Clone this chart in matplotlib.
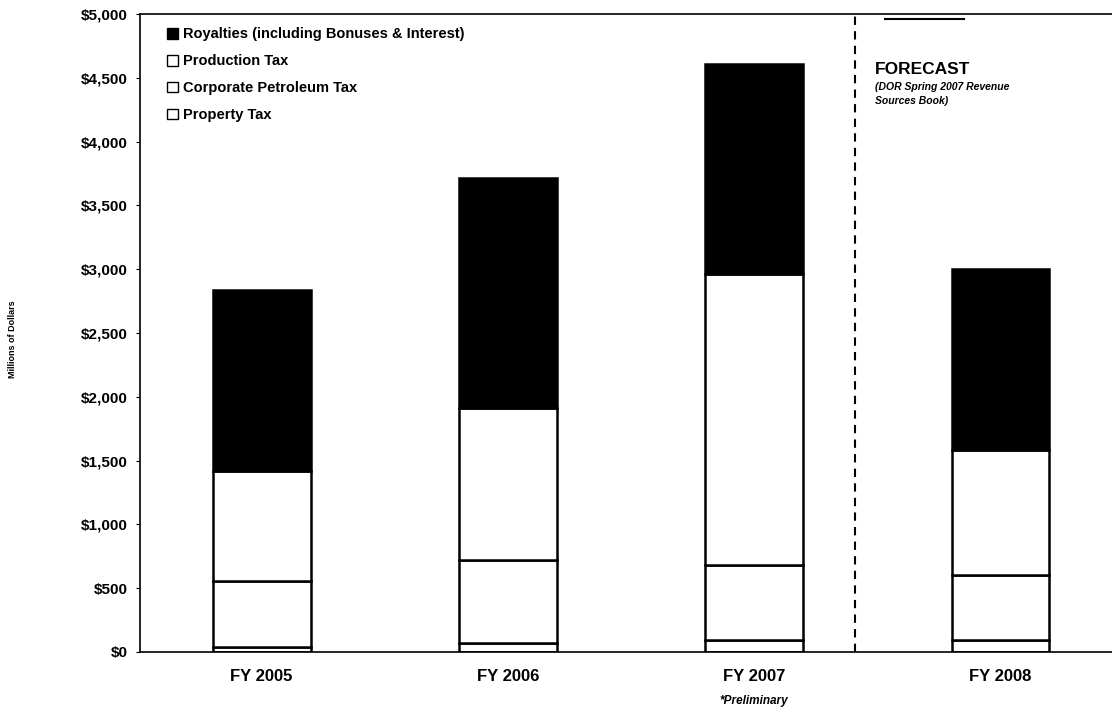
import numpy as np
import matplotlib.pyplot as plt
from matplotlib.patches import Patch

plt.rcParams['font.family'] = ['Liberation Sans', 'DejaVu Sans']

# Data (millions of dollars)
years = ['FY 2005', 'FY 2006', 'FY 2007', 'FY 2008']
property_tax = [40, 70, 94, 94]
corporate_tax = [515, 649, 586, 508]
production_tax = [867, 1195, 2281, 984]
royalties = [1414, 1801, 1647, 1414]
yticks = [0, 500, 1000, 1500, 2000, 2500, 3000, 3500, 4000, 4500, 5000]

fig = plt.figure(figsize=(11.12, 7.2), dpi=100)
ax = fig.add_axes([140 / 1112, 1 - 652 / 720, 972 / 1112, 638 / 720])

x = np.arange(len(years))
w = 0.397
bottom = np.zeros(len(years))
for vals, fc in [(property_tax, 'white'), (corporate_tax, 'white'),
                 (production_tax, 'white'), (royalties, 'black')]:
    ax.bar(x, vals, w, bottom=bottom, color=fc, edgecolor='black', linewidth=1.8)
    bottom += np.array(vals)

ax.set_xlim(-0.494, 3.453)
ax.set_ylim(0, 5000)
ax.set_yticks(yticks)
ax.set_yticklabels(['${:,}'.format(v) for v in yticks], fontsize=11, fontweight='bold')
ax.set_xticks(x)
ax.set_xticklabels(years, fontsize=12, fontweight='bold')
ax.tick_params(axis='y', length=3, pad=6)
ax.tick_params(axis='x', length=0, pad=12)
ax.spines['right'].set_visible(False)
for s in ['left', 'top', 'bottom']:
    ax.spines[s].set_linewidth(1.2)

ax.set_ylabel('Millions of Dollars', fontsize=6.5, fontweight='bold')
ax.yaxis.set_label_coords(-0.127, 0.49)

# forecast divider
ax.axvline(2.409, color='black', linestyle=(0, (4, 3)), linewidth=1.5)
ax.plot([2.53, 2.85], [4960, 4960], color='black', linewidth=1.5)
ax.text(2.49, 4530, 'FORECAST', fontsize=12.5, fontweight='bold')
ax.text(2.49, 4470, '(DOR Spring 2007 Revenue\nSources Book)', fontsize=7.5,
        fontweight='bold', style='italic', linespacing=1.55, va='top')

ax.text(2, -340, '*Preliminary', fontsize=8.5, fontweight='bold', style='italic',
        ha='center', va='top')

handles = [Patch(facecolor='black', edgecolor='black'),
           Patch(facecolor='white', edgecolor='black'),
           Patch(facecolor='white', edgecolor='black'),
           Patch(facecolor='white', edgecolor='black')]
labels = ['Royalties (including Bonuses & Interest)', 'Production Tax',
          'Corporate Petroleum Tax', 'Property Tax']
leg = ax.legend(handles, labels, loc='upper left', bbox_to_anchor=(0.022, 0.988),
                frameon=False, handlelength=0.75, handleheight=0.75,
                handletextpad=0.3, labelspacing=0.88, borderaxespad=0,
                prop={'weight': 'bold', 'size': 10.5})

fig.savefig('out.png', dpi=100)
